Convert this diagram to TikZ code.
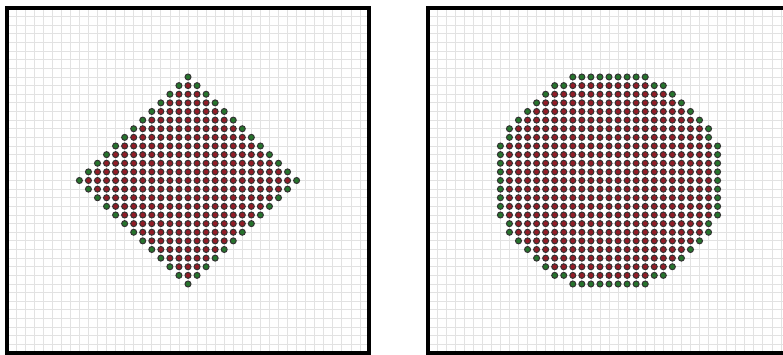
\documentclass[tikz,border=0pt]{standalone}
\definecolor{dotred}{RGB}{145,28,38}
\definecolor{dotgreen}{RGB}{38,115,44}
\definecolor{gridgray}{RGB}{226,226,226}
\tikzset{
  gridline/.style={draw=gridgray, line width=0.8pt},
  panelframe/.style={draw=black, line width=3.2pt},
  reddot/.style={fill=dotred, draw=black!80, line width=1pt},
  greendot/.style={fill=dotgreen, draw=black!80, line width=1pt},
}
\begin{document}
\begin{tikzpicture}[x=1pt,y=1pt]
\useasboundingbox (0,0) rectangle (783,355);
\clip (0,0) rectangle (783,355);
% ---------- left panel: diamond ----------
\begin{scope}[shift={(7,2)}, x=9.05pt, y=8.625pt]
  \draw[gridline, step=1] (0,0) grid (40,40);
  \foreach \i in {-12,...,12}{
    \foreach \j in {-12,...,12}{
      \pgfmathtruncatemacro\dd{abs(\i)+abs(\j)}
      \ifnum\dd<12
        \path[reddot] ({20+\i},{20+\j}) circle[radius=3pt];
      \fi
      \ifnum\dd=12
        \path[greendot] ({20+\i},{20+\j}) circle[radius=3pt];
      \fi
    }
  }
  \draw[panelframe] (0,0) rectangle (40,40);
\end{scope}
% ---------- right panel: disc ----------
\begin{scope}[shift={(428,2)}, x=9.05pt, y=8.625pt]
  \draw[gridline, step=1] (0,0) grid (40,40);
  \foreach \i in {-13,...,13}{
    \foreach \j in {-13,...,13}{
      \pgfmathtruncatemacro\ins{(\i*\i+\j*\j)<=160}
      \ifnum\ins=1
        \pgfmathtruncatemacro\bd{max(((\i+1)*(\i+1)+\j*\j)>160, ((\i-1)*(\i-1)+\j*\j)>160, (\i*\i+(\j+1)*(\j+1))>160, (\i*\i+(\j-1)*(\j-1))>160)}
        \ifnum\bd=1
          \path[greendot] ({20+\i},{20+\j}) circle[radius=3pt];
        \else
          \path[reddot] ({20+\i},{20+\j}) circle[radius=3pt];
        \fi
      \fi
    }
  }
  \draw[panelframe] (0,0) rectangle (40,40);
\end{scope}
\end{tikzpicture}
\end{document}
